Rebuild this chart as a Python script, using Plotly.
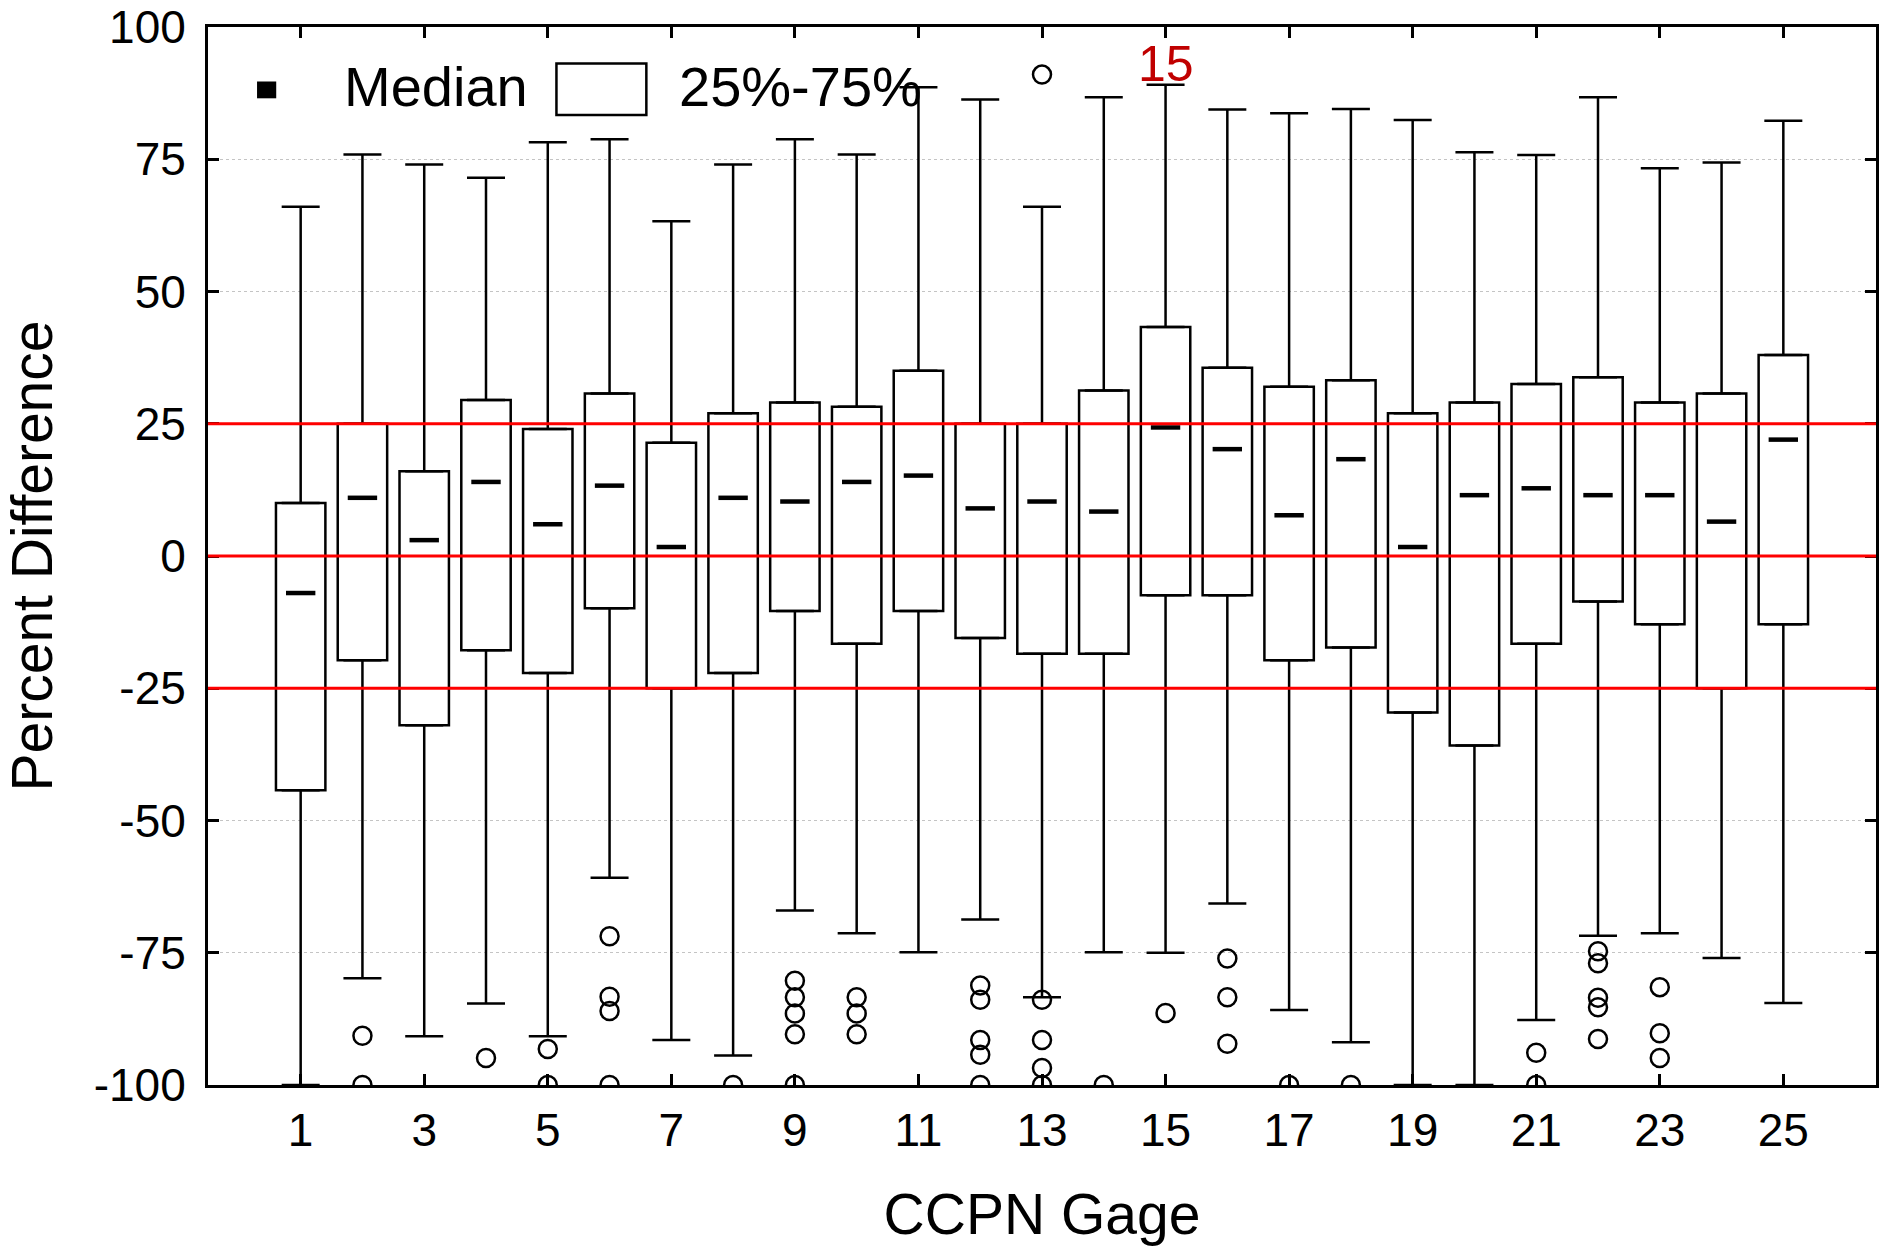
import plotly.graph_objects as go

# box statistics per CCPN gage (percent difference)
gages = list(range(1, 26))
upper = [66, 75.9, 74.0, 71.5, 78.2, 78.8, 63.3, 74.0, 78.8, 75.9, 88.6, 86.3, 66.0,
         86.7, 89.1, 84.4, 83.7, 84.5, 82.4, 76.3, 75.8, 86.7, 73.3, 74.4, 82.3]
q3 = [10, 25, 16, 29.5, 24, 30.7, 21.4, 27, 29, 28.2, 35, 25, 25,
      31.3, 43.3, 35.6, 32, 33.2, 27, 29, 32.5, 33.8, 29, 30.7, 38]
median = [-7, 11, 3, 14, 6, 13.3, 1.7, 11, 10.3, 14, 15.2, 9, 10.3,
          8.4, 24.3, 20.2, 7.7, 18.3, 1.7, 11.5, 12.8, 11.5, 11.5, 6.5, 22]
q1 = [-44.3, -19.7, -32, -17.8, -22.1, -9.9, -25, -22.1, -10.4, -16.6, -10.4, -15.5, -18.5,
      -18.5, -7.4, -7.4, -19.7, -17.3, -29.6, -35.8, -16.6, -8.6, -12.9, -25, -12.9]
lower = [-100, -79.8, -90.8, -84.6, -90.8, -60.8, -91.5, -94.4, -67, -71.3, -74.9, -68.7, -83.4,
         -74.9, -75, -65.7, -85.8, -91.9, -100, -100, -87.7, -71.8, -71.3, -76, -84.5]

# outliers
out_gage = [2, 2, 4, 5, 5, 6, 6, 6, 6, 8,
            9, 9, 9, 9, 9, 10, 10, 10,
            12, 12, 12, 12, 12, 13, 13, 13, 13, 13,
            14, 15, 16, 16, 16, 17, 18, 21, 21,
            22, 22, 22, 22, 22, 23, 23, 23]
out_value = [-90.7, -100, -94.9, -93.2, -100, -71.9, -83.3, -86, -100, -100,
             -80.3, -83.4, -86.5, -90.4, -100, -83.4, -86.5, -90.4,
             -81.2, -83.9, -91.5, -94.3, -100, 91, -83.9, -91.5, -96.8, -100,
             -100, -86.4, -76.1, -83.4, -92.2, -100, -100, -93.9, -100,
             -74.7, -77, -83.5, -85.3, -91.3, -81.5, -90.2, -94.9]

ref_lines = [25, 0, -25]
x_ticks = list(range(1, 26, 2))
y_ticks = list(range(-100, 101, 25))
flag_gage, flag_y = 15, 93

FONT = "Liberation Sans, Arial, sans-serif"

fig = go.Figure()

# 25%-75% boxes
fig.add_trace(go.Bar(
    x=gages, y=[a - b for a, b in zip(q3, q1)], base=q1, width=0.8,
    marker=dict(color="white", line=dict(color="black", width=2.5)),
    showlegend=False, hoverinfo="skip"))

# whiskers above and below the boxes
fig.add_trace(go.Scatter(
    x=gages, y=q3, mode="markers",
    marker=dict(size=1, color="rgba(0,0,0,0)"),
    error_y=dict(type="data", symmetric=False,
                 array=[u - t for u, t in zip(upper, q3)], arrayminus=[0] * len(gages),
                 width=19, thickness=2.5, color="black"),
    showlegend=False, hoverinfo="skip"))
fig.add_trace(go.Scatter(
    x=gages, y=q1, mode="markers",
    marker=dict(size=1, color="rgba(0,0,0,0)"),
    error_y=dict(type="data", symmetric=False,
                 array=[0] * len(gages), arrayminus=[b - l for b, l in zip(q1, lower)],
                 width=19, thickness=2.5, color="black"),
    showlegend=False, hoverinfo="skip"))

# medians
fig.add_trace(go.Scatter(
    x=gages, y=median, mode="markers",
    marker=dict(symbol="line-ew", size=21, line=dict(color="black", width=4.5)),
    showlegend=False))

# outliers
fig.add_trace(go.Scatter(
    x=out_gage, y=out_value, mode="markers",
    marker=dict(symbol="circle-open", size=18, color="black", line=dict(width=2.5)),
    showlegend=False))

for y in ref_lines:
    fig.add_shape(type="line", xref="paper", x0=0, x1=1, yref="y", y0=y, y1=y,
                  line=dict(color="#ff0000", width=3), layer="above")

fig.add_annotation(x=flag_gage, y=flag_y, text=str(flag_gage), showarrow=False,
                   font=dict(family=FONT, size=50, color="#c00000"))

# legend drawn by hand
fig.add_shape(type="rect", xref="paper", yref="paper",
              x0=0.0294, x1=0.0409, y0=0.9326, y1=0.9485,
              fillcolor="black", line=dict(width=0))
fig.add_annotation(xref="paper", yref="paper", x=0.0804, y=0.9433, text="Median",
                   xanchor="left", yanchor="middle", showarrow=False,
                   font=dict(family=FONT, size=56, color="black"))
fig.add_shape(type="rect", xref="paper", yref="paper",
              x0=0.2089, x1=0.2628, y0=0.9169, y1=0.9655,
              fillcolor="white", line=dict(color="black", width=2.5))
fig.add_annotation(xref="paper", yref="paper", x=0.2814, y=0.9433, text="25%-75%",
                   xanchor="left", yanchor="middle", showarrow=False,
                   font=dict(family=FONT, size=56, color="black"))

fig.update_layout(
    width=1879, height=1249,
    margin=dict(l=208, r=3, t=27, b=164),
    paper_bgcolor="white", plot_bgcolor="white",
    font=dict(family=FONT, color="black"),
    xaxis=dict(
        range=[-0.5, 26.5], tickvals=x_ticks, ticktext=[str(t) for t in x_ticks],
        ticks="inside", ticklen=11, tickwidth=3, tickcolor="black",
        showline=True, linewidth=3, linecolor="black", mirror="ticks",
        showgrid=False, zeroline=False, automargin=False,
        tickfont=dict(size=46), ticklabelstandoff=3, ticklabeloverflow="allow",
        title=dict(text="CCPN Gage", font=dict(size=57), standoff=39)),
    yaxis=dict(
        range=[-100, 100], tickvals=y_ticks, ticktext=[str(t) for t in y_ticks],
        ticks="inside", ticklen=11, tickwidth=3, tickcolor="black",
        showline=True, linewidth=3, linecolor="black", mirror="ticks",
        showgrid=True, gridcolor="#c4c4c4", gridwidth=1, griddash="dot",
        zeroline=False, automargin=False,
        tickfont=dict(size=46), ticklabelstandoff=10, ticklabeloverflow="allow",
        title=dict(text="Percent Difference", font=dict(size=57), standoff=28)),
)

# drop the default page margin so the figure fills the window from the corner
fig.write_html("out.html", config={"displayModeBar": False},
               post_script="document.body.style.margin='0';")
